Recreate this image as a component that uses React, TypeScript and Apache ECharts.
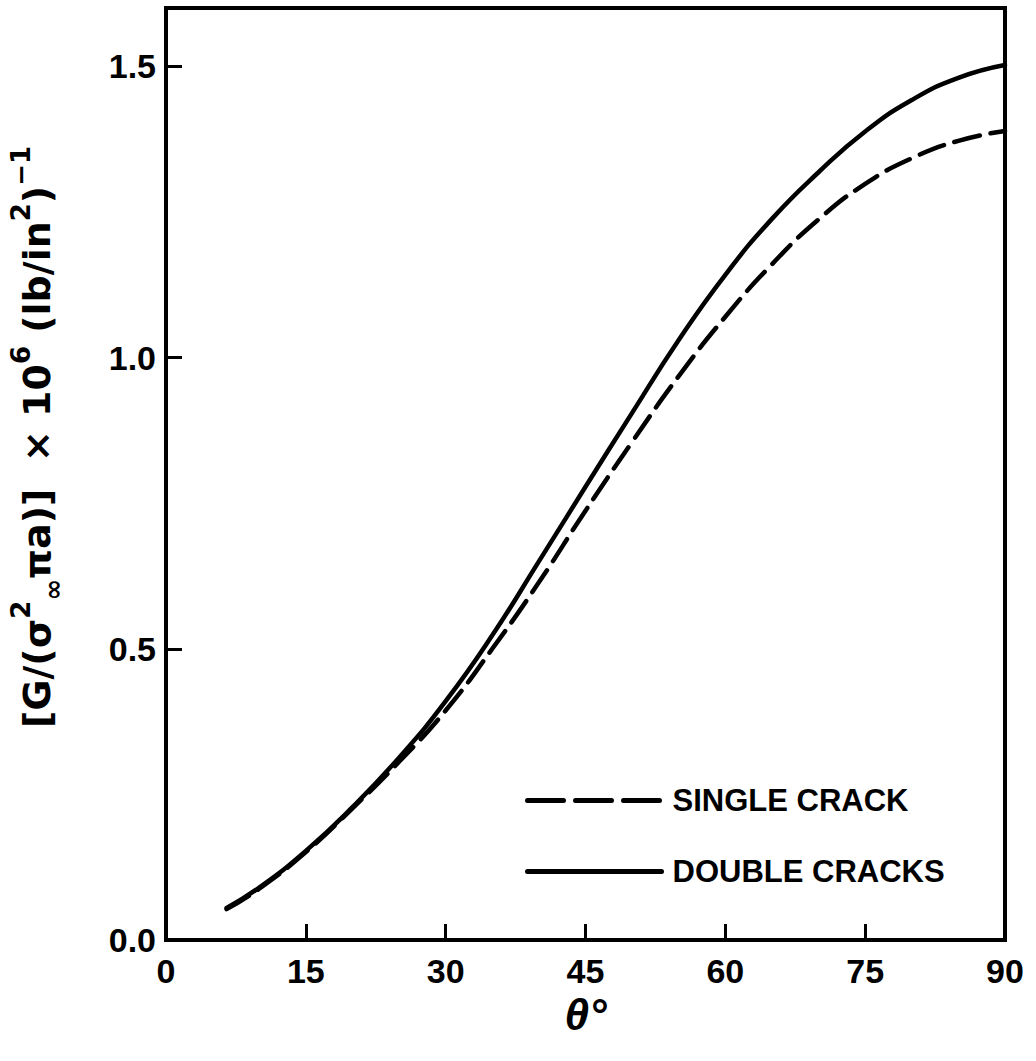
import React, { useEffect, useRef } from "react";
import * as echarts from "echarts";

const thetaValues = [6.5, 10, 15, 20, 25, 30, 35, 40, 45, 50, 55, 60, 65, 70, 75, 80, 85, 90];
const singleCrack = [0.053, 0.088, 0.151, 0.226, 0.306, 0.394, 0.5, 0.614, 0.737, 0.855, 0.968, 1.07, 1.16, 1.237, 1.298, 1.342, 1.372, 1.389];
const doubleCracks = [0.055, 0.09, 0.153, 0.228, 0.313, 0.41, 0.523, 0.65, 0.778, 0.905, 1.03, 1.142, 1.238, 1.318, 1.388, 1.442, 1.48, 1.502];
const xTicks = [0, 15, 30, 45, 60, 75, 90];
const yTicks = [0, 0.5, 1.0, 1.5];
const seriesNames = ["SINGLE CRACK", "DOUBLE CRACKS"];

const FONT = "Liberation Sans";
const TITLE_FONT = "DejaVu Sans";

export default function App() {
  const ref = useRef<HTMLDivElement>(null);
  useEffect(() => {
    if (!ref.current) return;
    const chart = echarts.init(ref.current, null, { renderer: "svg" });
    const pair = (xs: number[], ys: number[]) => xs.map((x, i) => [x, ys[i]]);
    chart.setOption({
      animation: false,
      backgroundColor: "#ffffff",
      grid: {
        left: 163,
        right: 31,
        top: 8,
        bottom: 121,
        show: true,
        borderColor: "#000",
        borderWidth: 4,
      },
      legend: {
        orient: "vertical",
        left: 520,
        top: 780,
        itemWidth: 134,
        itemHeight: 20,
        itemGap: 40,
        itemStyle: { opacity: 0 },
        data: [
          { name: seriesNames[0], lineStyle: { color: "#000", width: 5, type: [36, 12] } },
          { name: seriesNames[1], lineStyle: { color: "#000", width: 5, type: "solid" } },
        ],
        textStyle: { color: "#000", fontSize: 31, fontWeight: "bold", fontFamily: FONT, padding: [0, 0, 0, 6] },
      },
      xAxis: {
        type: "value",
        min: 0,
        max: 90,
        interval: 15,
        splitLine: { show: false },
        axisLine: { show: true, lineStyle: { color: "#000", width: 4 } },
        axisTick: { show: true, inside: true, length: 16, lineStyle: { color: "#000", width: 3 }, customValues: xTicks },
        axisLabel: {
          color: "#000",
          fontSize: 34,
          fontWeight: "bold",
          fontFamily: FONT,
          margin: 14,
          customValues: xTicks,
        },
        name: "θ°",
        nameLocation: "middle",
        nameGap: 50,
        nameTextStyle: { color: "#000", fontSize: 44, fontStyle: "italic", fontWeight: "bold", fontFamily: FONT },
      },
      yAxis: {
        type: "value",
        min: 0,
        max: 1.6,
        splitLine: { show: false },
        axisLine: { show: true, lineStyle: { color: "#000", width: 4 } },
        axisTick: { show: true, inside: true, length: 16, lineStyle: { color: "#000", width: 3 }, customValues: yTicks },
        axisLabel: {
          color: "#000",
          fontSize: 34,
          fontWeight: "bold",
          fontFamily: FONT,
          margin: 10,
          customValues: yTicks,
          formatter: (v: number) => v.toFixed(1),
        },
        name:
          "{b|[G/(σ}{sup|2}{sub|∞}{b|πa)]  × 10}{sup|6}{b| (lb/in}{sup|2}{b|)}{sup|−1}",
        nameLocation: "middle",
        nameRotate: 90,
        nameGap: 100,
        nameTextStyle: {
          color: "#000",
          fontFamily: TITLE_FONT,
          padding: [0, 0, 0, 74],
          rich: {
            b: { fontSize: 38, fontWeight: "bold", fontFamily: TITLE_FONT, color: "#000", lineHeight: 58, verticalAlign: "middle" },
            sup: { fontSize: 26, fontWeight: "bold", fontFamily: TITLE_FONT, color: "#000", lineHeight: 58, verticalAlign: "top" },
            sub: { fontSize: 26, fontWeight: "bold", fontFamily: TITLE_FONT, color: "#000", lineHeight: 58, verticalAlign: "bottom" },
          },
        },
      },
      series: [
        {
          name: seriesNames[0],
          type: "line",
          smooth: true,
          showSymbol: false,
          symbol: "none",
          data: pair(thetaValues, singleCrack),
          lineStyle: { color: "#000", width: 4.5, type: [26, 11], cap: "round" },
          itemStyle: { color: "#000" },
        },
        {
          name: seriesNames[1],
          type: "line",
          smooth: true,
          showSymbol: false,
          symbol: "none",
          data: pair(thetaValues, doubleCracks),
          lineStyle: { color: "#000", width: 4.5, type: "solid", cap: "round" },
          itemStyle: { color: "#000" },
        },
      ],
    });
    return () => chart.dispose();
  }, []);
  return (
    <div
      ref={ref}
      style={{ position: "absolute", left: 0, top: 0, width: 1036, height: 1061, background: "#fff" }}
    />
  );
}
